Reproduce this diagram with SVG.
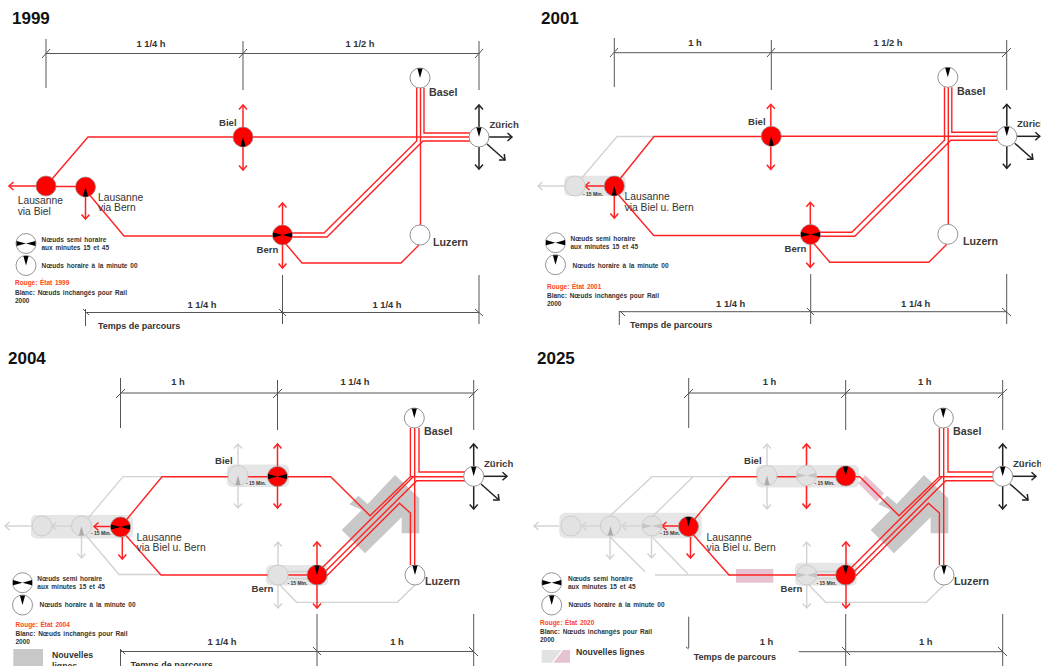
<svg xmlns="http://www.w3.org/2000/svg" width="1041" height="666" viewBox="0 0 1041 666">
<style>
text{font-family:"Liberation Sans",Arial,sans-serif;font-weight:700}
.t{font-size:17px;fill:#111}
.d{font-size:9.4px;fill:#333;text-anchor:middle}
.p{font-size:9px;fill:#333}
.l{font-size:9.6px;fill:#3a3a3a}
.b{font-size:10.7px;fill:#3a3a3a}
.r{font-size:10.3px;fill:#333;font-weight:400}
.s{font-size:6.5px;fill:#333;word-spacing:1px}
.o{font-size:6.5px;fill:#f42;word-spacing:.8px}
.m{font-size:5px;fill:#333}
.n{font-size:8.7px;fill:#333}
.dim{fill:none;stroke:#555;stroke-width:1}
.ln{fill:none;stroke:#f22;stroke-width:1.4}
.gl{fill:none;stroke:#d2d2d2;stroke-width:1.3}
.ar{fill:none;stroke:#f22;stroke-width:1.5;marker-end:url(#mr)}
.ag{fill:none;stroke:#d2d2d2;stroke-width:1.4;marker-end:url(#mg)}
.ak{fill:none;stroke:#222;stroke-width:1.5;marker-end:url(#mk)}
.bg{fill:#e6e6e6}
.bl{fill:#c8c8c8}
.pk{fill:#e6c3d3}
.cr{fill:#f00;stroke:#888;stroke-width:.7}
.cw{fill:#fff;stroke:#888;stroke-width:.9}
.cg{fill:#e2e2e2;stroke:#ccc;stroke-width:1}
.k{fill:#000}
.g{fill:#aaa}
.g2{fill:#c4c4c4}
</style>
<defs>
<marker id="mr" markerUnits="userSpaceOnUse" viewBox="-6 -6 8 12" refX="0" refY="0" markerWidth="8" markerHeight="12" orient="auto"><path d="M-4.5,-4 L0,0 L-4.5,4" fill="none" stroke="#f22" stroke-width="1.5"/></marker>
<marker id="mg" markerUnits="userSpaceOnUse" viewBox="-6 -6 8 12" refX="0" refY="0" markerWidth="8" markerHeight="12" orient="auto"><path d="M-4.5,-4 L0,0 L-4.5,4" fill="none" stroke="#d2d2d2" stroke-width="1.4"/></marker>
<marker id="mk" markerUnits="userSpaceOnUse" viewBox="-6 -6 8 12" refX="0" refY="0" markerWidth="8" markerHeight="12" orient="auto"><path d="M-4.5,-4 L0,0 L-4.5,4" fill="none" stroke="#222" stroke-width="1.5"/></marker>
<polygon id="hu" points="-2.6,-9.5 2.6,-9.5 0,0"/>
<polygon id="hd" points="-2.6,9.5 2.6,9.5 0,0"/>
<path id="bw" d="M-9.5,-2.6 L0,0 L-9.5,2.6Z M9.5,-2.6 L0,0 L9.5,2.6Z"/>
<g id="net-ab">
<path class="ln" d="M282,233 H324 L416.7,141 V88"/>
<path class="ln" d="M282,237 H327 L423,141 H470"/>
<path class="ln" d="M424,88 V133 H470"/>
<path class="ln" d="M420.5,88 V225"/>
<path class="ln" d="M250,137 H470"/>
<path class="ln" d="M285,243 L302,263 H401 L419,245"/>
<path class="ak" d="M479,127 V105"/>
<path class="ak" d="M479,147 V169"/>
<path class="ak" d="M489,137 H512"/>
<path class="ak" d="M487,144 L505,160"/>
<path class="ar" d="M243,127 V105"/>
<path class="ar" d="M243,147 V170"/>
<path class="ar" d="M282.5,225 V203"/>
<path class="ar" d="M282.5,245 V268"/>
</g>
<g id="net-cd">
<polygon class="bl" points="341.7,530 361.7,510 349.3,504.3 358.3,495.7 367.7,504 395,475 419.3,498.3 419.3,533.3 401.7,533.3 401.7,517.3 365,553.3"/>
<path class="gl" d="M278,583 L296.7,602.3 H397.3 L415,585"/>
<path class="gl" d="M287,571.5 H307 M287,578.5 H307"/>
<path class="ln" d="M320,476.7 H330.7 L370,515.7 L410.4,476.7 V428"/>
<path class="ln" d="M414.7,428 V565"/>
<path class="ln" d="M419,428 V472 H465"/>
<path class="ln" d="M410.4,476.7 H465"/>
<path class="ln" d="M322,568 L413,477"/>
<path class="ln" d="M322,574.7 L416.7,480.7 H465"/>
<path class="ln" d="M320,582.6 L399.5,503.3 L410.4,513 V565"/>
<path class="ak" d="M473.7,466 V444"/>
<path class="ak" d="M473.7,486 V509"/>
<path class="ak" d="M484,476.3 H507"/>
<path class="ak" d="M481,484 L499,500"/>
<path class="ar" d="M317,565 V542"/>
<path class="ar" d="M317,585 V608"/>
<path class="ar" d="M277.5,466 V444"/>
<path class="ar" d="M277.5,486 V508"/>
</g>
</defs>

<g id="titles">
<text class="t" x="12" y="24">1999</text>
<text class="t" x="541" y="24">2001</text>
<text class="t" x="8" y="363.5">2004</text>
<text class="t" x="537" y="363.5">2025</text>
</g>

<g id="dimensions">
<path class="dim" d="M46,39 V88 M243,41 V90 M479,41 V90 M46,53.5 H479 M42,58 L50,49 M239,58 L247,49 M475,58 L483,49"/>
<text class="d" x="151" y="47">1 1/4 h</text><text class="d" x="360" y="47">1 1/2 h</text>
<path class="dim" d="M85.5,309 V326 M282.5,275 V324 M479,275 V324 M85.5,312.5 H479 M83,309 L89,315 M279,309 L286,316 M475,309 L483,316"/>
<text class="d" x="202" y="308">1 1/4 h</text><text class="d" x="387" y="308">1 1/4 h</text>
<text class="p" x="98" y="329">Temps de parcours</text>

<path class="dim" d="M614.3,38 V87 M771.3,40 V90 M1006.7,40 V90 M614.3,52.7 H1006.7 M610,57 L618,48 M767,57 L775,48 M1002,57 L1011,48"/>
<text class="d" x="695" y="46">1 h</text><text class="d" x="888" y="46">1 1/2 h</text>
<path class="dim" d="M619.3,311 V325 M810.7,274 V324 M1006.7,274 V324 M619.3,311.7 H1006.7 M620,311 L625,316 M807,308 L814,315 M1002,308 L1011,316"/>
<text class="d" x="730.7" y="307">1 1/4 h</text><text class="d" x="915.7" y="307">1 1/4 h</text>
<text class="p" x="630" y="327.7">Temps de parcours</text>

<path class="dim" d="M120.5,378 V428 M277.5,380 V430 M473.7,380 V430 M120.5,393 H473.7 M116,398 L125,389 M273,398 L282,389 M469,398 L478,389"/>
<text class="d" x="178" y="385">1 h</text><text class="d" x="355" y="385">1 1/4 h</text>
<path class="dim" d="M120.5,650 V666 M317,614 V666 M473.7,614 V666 M120.5,651.5 H473.7 M120,649 L125,654 M313,647 L321,655 M469,647 L478,656"/>
<text class="d" x="222" y="645">1 1/4 h</text><text class="d" x="397" y="645">1 h</text>
<text class="p" x="130.5" y="667.5">Temps de parcours</text>

<path class="dim" d="M688.7,378 V428 M845.7,380 V430 M1002.7,380 V430 M688.7,393 H1002.7 M684,398 L693,389 M841,398 L850,389 M998,398 L1007,389"/>
<text class="d" x="769.5" y="385">1 h</text><text class="d" x="924.7" y="385">1 h</text>
<path class="dim" d="M688.7,616.7 V648 M686,647 L688.7,649 M845.7,614 V666 M1002.7,614 V666 M798.7,651.7 H1002.7 M842,647 L850,655 M998,647 L1007,656"/>
<text class="d" x="766.5" y="645">1 h</text><text class="d" x="925.7" y="645">1 h</text>
<text class="p" x="693.7" y="659.7">Temps de parcours</text>
</g>

<g id="backgrounds">
<rect class="bg" x="564.3" y="175.7" width="61.4" height="20.3" rx="5"/>
<rect class="bg" x="227" y="464.5" width="62" height="22.5" rx="5"/>
<rect class="bg" x="31" y="515" width="102" height="23.5" rx="5"/>
<rect class="bg" x="266" y="565" width="62" height="20.5" rx="5"/>
<rect class="bg" x="756" y="465" width="103" height="22.5" rx="5"/>
<rect class="bg" x="559.3" y="512.7" width="142.4" height="25.6" rx="6"/>
<rect class="bg" x="795" y="562.7" width="61.7" height="23" rx="5"/>
<polygon class="pk" points="736,569 773.3,569 773.3,582.7 736,582.7"/>
<polygon class="pk" points="865,475 884,493.3 876.7,501.7 858.3,483.3"/>
</g>

<g id="connectors">
<g id="conn-1999">
<use href="#net-ab"/>
<path class="ln" d="M46,186 L88,137 H243"/>
<path class="ln" d="M46,186.5 H85.5"/>
<path class="ln" d="M85.5,190 L124,236 H282"/>
<path class="ar" d="M36,186 H9"/>
<path class="ar" d="M85.5,197 V219"/>
</g>
<g id="conn-2001">
<path class="gl" d="M575,186 L617,136.5 H654"/>
<path class="ag" d="M565,186 H538"/>
<use href="#net-ab" transform="translate(527.8,-.7)"/>
<path class="ln" d="M614.3,186 L654,136.5 H771"/>
<path class="ln" d="M614.3,190 L653.7,235.5 H811"/>
<path class="ar" d="M604,186 H585"/>
<path class="ar" d="M614.3,196 V218"/>
</g>
<g id="conn-2004">
<path class="gl" d="M81.5,526 L123,476.7 H162"/>
<path class="gl" d="M81.5,530 L119,574.5 H160"/>
<path class="ag" d="M31,526 H5"/>
<path class="ag" d="M71,526 H52"/>
<path class="ag" d="M238,465 V444"/>
<path class="ag" d="M238,486 V508"/>
<path class="ag" d="M81.5,536 V558"/>
<path class="ag" d="M278,565 V542"/>
<path class="ag" d="M278,585 V608"/>
<use href="#net-cd"/>
<path class="ln" d="M120.5,527 L162,476.7 H320"/>
<path class="ln" d="M122,531 L161,575 H307"/>
<path class="ar" d="M111,526.5 H94"/>
<path class="ar" d="M122.3,537 V559"/>
</g>
<g id="conn-2025">
<path class="gl" d="M610,516 L652,476.7 H731"/>
<path class="gl" d="M653,516 L693,476.7"/>
<path class="gl" d="M610,537 L645,571.7"/>
<path class="gl" d="M653,538 L688,574"/>
<path class="gl" d="M655,575 H731"/>
<path class="ag" d="M641,526 H622"/>
<path class="ag" d="M600,526 H582"/>
<path class="ag" d="M559,526 H534"/>
<path class="ag" d="M610,537 V559"/>
<path class="ag" d="M651.5,537 V558"/>
<path class="ag" d="M767,465 V444"/>
<path class="ag" d="M767,486 V509"/>
<path class="ag" d="M806.5,465 V444"/>
<path class="ag" d="M806.5,486 V509"/>
<path class="ag" d="M806.7,565 V542"/>
<path class="ag" d="M806.7,585 V608"/>
<use href="#net-cd" transform="translate(529,0)"/>
<path class="ln" d="M688.5,526.5 L730,476.7 H850"/>
<path class="ln" d="M690,531 L729,575 H836"/>
<path class="ar" d="M678,526 H662"/>
<path class="ar" d="M690.5,537 V558"/>
</g>
</g>

<g id="n1999-biel"><circle class="cr" cx="243" cy="137" r="10"/><use href="#hd" x="243" y="137" class="k"/><text class="l" x="219" y="126">Biel</text></g>
<g id="n1999-basel"><circle class="cw" cx="420" cy="78" r="10"/><use href="#hu" x="420" y="78" class="k"/><text class="b" x="429" y="96">Basel</text></g>
<g id="n1999-zurich"><circle class="cw" cx="479" cy="137" r="10"/><use href="#hu" x="479" y="137" class="k"/><text class="l" x="489.5" y="128">Zürich</text></g>
<g id="n1999-luzern"><circle class="cw" cx="420" cy="235" r="10"/><text class="b" x="433" y="246">Luzern</text></g>
<g id="n1999-bern"><circle class="cr" cx="282.5" cy="235" r="10"/><use href="#bw" x="282.5" y="235" class="k"/><text class="l" x="256.5" y="253">Bern</text></g>
<g id="n1999-lbiel"><circle class="cr" cx="46" cy="186" r="10"/><text class="r" x="17.7" y="204">Lausanne</text><text class="r" x="17.7" y="215">via Biel</text></g>
<g id="n1999-lbern"><circle class="cr" cx="85.5" cy="187" r="10"/><use href="#hd" x="85.5" y="187" class="k"/><text class="r" x="98" y="200.5">Lausanne</text><text class="r" x="98" y="211">via Bern</text></g>
<g id="legend-1999">
<circle class="cw" cx="26" cy="243.5" r="10"/><use href="#bw" x="26" y="243.5" class="k"/>
<circle class="cw" cx="26" cy="265.5" r="10"/><use href="#hu" x="26" y="265.5" class="k"/>
<text class="s" x="41.5" y="241.5">Nœuds semi horaire</text><text class="s" x="41.5" y="250">aux minutes 15 et 45</text>
<text class="s" x="41.5" y="268">Nœuds horaire à la minute 00</text>
<text class="o" x="15" y="285">Rouge: État 1999</text><text class="s" x="15" y="294.5">Blanc: Nœuds inchangés pour Rail</text><text class="s" x="15" y="302.5">2000</text>
</g>

<g id="n2001-lold"><circle class="cg" cx="575" cy="186" r="10"/></g>
<g id="n2001-biel"><circle class="cr" cx="771.3" cy="136.3" r="10"/><use href="#hd" x="771.3" y="136.3" class="k"/><text class="l" x="748" y="125">Biel</text></g>
<g id="n2001-basel"><circle class="cw" cx="947.8" cy="77.3" r="10"/><use href="#hu" x="947.8" y="77.3" class="k"/><text class="b" x="957" y="95">Basel</text></g>
<g id="n2001-zurich"><circle class="cw" cx="1006.8" cy="136.3" r="10"/><use href="#hu" x="1006.8" y="136.3" class="k"/><text class="l" x="1017" y="127">Zürich</text></g>
<g id="n2001-luzern"><circle class="cw" cx="947.8" cy="234.3" r="10"/><text class="b" x="963" y="245">Luzern</text></g>
<g id="n2001-bern"><circle class="cr" cx="810.5" cy="234.5" r="10"/><use href="#bw" x="810.5" y="234.5" class="k"/><text class="l" x="784.5" y="252">Bern</text></g>
<g id="n2001-lausanne"><circle class="cr" cx="614.3" cy="186" r="10"/><use href="#hd" x="614.3" y="186" class="k"/><text class="m" x="583" y="195.8">- 15 Min.</text><text class="r" x="624.5" y="200">Lausanne</text><text class="r" x="624.5" y="210.5">via Biel u. Bern</text></g>
<g id="legend-2001">
<circle class="cw" cx="555.5" cy="242.7" r="10"/><use href="#bw" x="555.5" y="242.7" class="k"/>
<circle class="cw" cx="555.5" cy="264.7" r="10"/><use href="#hu" x="555.5" y="264.7" class="k"/>
<text class="s" x="570.5" y="240.5">Nœuds semi horaire</text><text class="s" x="570.5" y="249">aux minutes 15 et 45</text>
<text class="s" x="572.5" y="267.5">Nœuds horaire à la minute 00</text>
<text class="o" x="547" y="289">Rouge: État 2001</text><text class="s" x="547" y="298">Blanc: Nœuds inchangés pour Rail</text><text class="s" x="547" y="306">2000</text>
</g>

<g id="n2004-bielold"><circle class="cg" cx="238" cy="475.5" r="10"/><use href="#hd" x="238" y="475.5" class="g"/></g>
<g id="n2004-lold1"><circle class="cg" cx="42" cy="526" r="10"/></g>
<g id="n2004-lold2"><circle class="cg" cx="81.5" cy="526" r="10"/><use href="#hd" x="81.5" y="526" class="g"/></g>
<g id="n2004-bernold"><circle class="cg" cx="278" cy="575" r="10"/></g>
<g id="n2004-biel"><circle class="cr" cx="277.5" cy="476.5" r="10"/><use href="#bw" x="277.5" y="476.5" class="k"/><text class="m" x="246" y="484.7">- 15 Min.</text><text class="l" x="215" y="464.3">Biel</text></g>
<g id="n2004-basel"><circle class="cw" cx="414.3" cy="418" r="10"/><use href="#hu" x="414.3" y="418" class="k"/><text class="b" x="424" y="435">Basel</text></g>
<g id="n2004-zurich"><circle class="cw" cx="473.7" cy="476.3" r="10"/><use href="#hu" x="473.7" y="476.3" class="k"/><text class="l" x="484" y="467">Zürich</text></g>
<g id="n2004-luzern"><circle class="cw" cx="415" cy="575" r="10"/><use href="#hu" x="415" y="575" class="k"/><text class="b" x="425" y="585">Luzern</text></g>
<g id="n2004-bern"><circle class="cr" cx="317" cy="575" r="10"/><use href="#hu" x="317" y="575" class="k"/><text class="m" x="287.5" y="584.7">- 15 Min.</text><text class="l" x="251.5" y="592">Bern</text></g>
<g id="n2004-lausanne"><circle class="cr" cx="120.5" cy="527" r="10"/><use href="#bw" x="120.5" y="527" class="k"/><text class="m" x="91" y="535.3">- 15 Min.</text><text class="r" x="136.5" y="540.5">Lausanne</text><text class="r" x="136.5" y="551">via Biel u. Bern</text></g>
<g id="legend-2004">
<circle class="cw" cx="22.5" cy="582.7" r="10"/><use href="#bw" x="22.5" y="582.7" class="k"/>
<circle class="cw" cx="22.5" cy="605" r="10"/><use href="#hu" x="22.5" y="605" class="k"/>
<text class="s" x="37.3" y="580.7">Nœuds semi horaire</text><text class="s" x="37.3" y="589">aux minutes 15 et 45</text>
<text class="s" x="39.5" y="607.3">Nœuds horaire à la minute 00</text>
<text class="o" x="15.5" y="626.7">Rouge: État 2004</text><text class="s" x="15.5" y="635.5">Blanc: Nœuds inchangés pour Rail</text><text class="s" x="15.5" y="643.5">2000</text>
<rect class="bl" x="13.3" y="649" width="29.7" height="17"/>
<text class="n" x="52" y="657.7">Nouvelles</text><text class="n" x="52" y="669">lignes</text>
</g>

<g id="n2025-bielold1"><circle class="cg" cx="767" cy="475.5" r="10"/><use href="#hd" x="767" y="475.5" class="g"/></g>
<g id="n2025-bielold2"><circle class="cg" cx="806.5" cy="475.5" r="10"/><use href="#bw" x="806.5" y="475.5" class="g2"/></g>
<g id="n2025-lold1"><circle class="cg" cx="571" cy="526" r="10"/></g>
<g id="n2025-lold2"><circle class="cg" cx="610.5" cy="526" r="10"/><use href="#hd" x="610.5" y="526" class="g"/></g>
<g id="n2025-lold3"><circle class="cg" cx="652" cy="526" r="10"/><use href="#bw" x="652" y="526" class="g2"/></g>
<g id="n2025-bernold"><circle class="cg" cx="806.7" cy="575" r="10"/><use href="#bw" x="806.7" y="575" class="g2"/></g>
<g id="n2025-biel"><circle class="cr" cx="845.7" cy="476" r="10"/><use href="#hu" x="845.7" y="476" class="k"/><text class="m" x="814.5" y="484.7">- 15 Min.</text><text class="l" x="744" y="464.3">Biel</text></g>
<g id="n2025-basel"><circle class="cw" cx="943.3" cy="418" r="10"/><use href="#hu" x="943.3" y="418" class="k"/><text class="b" x="953" y="435">Basel</text></g>
<g id="n2025-zurich"><circle class="cw" cx="1002.7" cy="476.3" r="10"/><use href="#hu" x="1002.7" y="476.3" class="k"/><text class="l" x="1013" y="467">Zürich</text></g>
<g id="n2025-luzern"><circle class="cw" cx="944" cy="575" r="10"/><use href="#hu" x="944" y="575" class="k"/><text class="b" x="954" y="585">Luzern</text></g>
<g id="n2025-bern"><circle class="cr" cx="845.7" cy="575" r="10"/><use href="#hu" x="845.7" y="575" class="k"/><text class="m" x="816.5" y="584.7">- 15 Min.</text><text class="l" x="780.5" y="592">Bern</text></g>
<g id="n2025-lausanne"><circle class="cr" cx="688.5" cy="526.5" r="10"/><use href="#hu" x="688.5" y="526.5" class="k"/><text class="m" x="660" y="535.3">- 15 Min.</text><text class="r" x="706.5" y="540.5">Lausanne</text><text class="r" x="706.5" y="551">via Biel u. Bern</text></g>
<g id="legend-2025">
<circle class="cw" cx="551.7" cy="582.7" r="10"/><use href="#bw" x="551.7" y="582.7" class="k"/>
<circle class="cw" cx="551.7" cy="605" r="10"/><use href="#hu" x="551.7" y="605" class="k"/>
<text class="s" x="568" y="580.7">Nœuds semi horaire</text><text class="s" x="568" y="589">aux minutes 15 et 45</text>
<text class="s" x="568.5" y="607.3">Nœuds horaire à la minute 00</text>
<text class="o" x="540" y="625">Rouge: État 2020</text><text class="s" x="540" y="633.7">Blanc: Nœuds inchangés pour Rail</text><text class="s" x="540" y="642">2000</text>
<polygon points="541.7,650 561.7,650 551.7,662.7 541.7,662.7" fill="#e2e2e2"/>
<polygon class="pk" points="553.3,662.7 563.3,650 570,650 570,662.7"/>
<text class="n" x="576" y="655">Nouvelles lignes</text>
</g>
</svg>
